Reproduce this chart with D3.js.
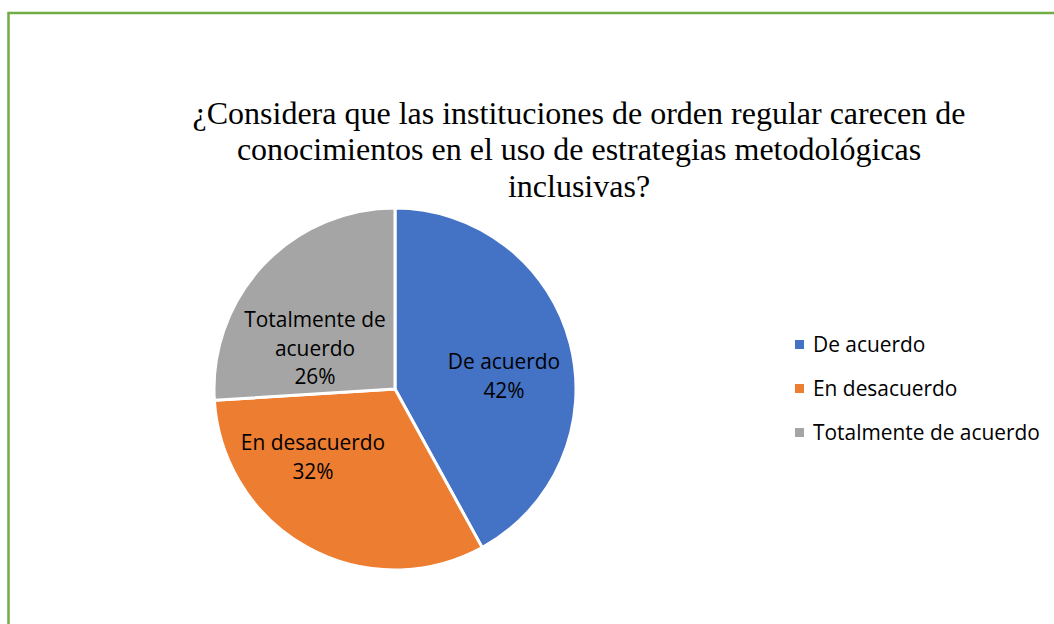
<!DOCTYPE html>
<html><head><meta charset="utf-8">
<script src="https://cdn.jsdelivr.net/npm/d3@7"></script>
<style>body{margin:0;background:#fff}svg{display:block}</style>
</head><body>
<svg id="c" width="1054" height="624"></svg>
<script>
const categories = ["De acuerdo", "En desacuerdo", "Totalmente de acuerdo"];
const values = [42, 32, 26];
const colors = ["#4472C4", "#ED7D31", "#A5A5A5"];
const titleLines = ["¿Considera que las instituciones de orden regular carecen de", "conocimientos en el uso de estrategias metodológicas", "inclusivas?"];
const sliceLabels = [["De acuerdo", "42%"], ["En desacuerdo", "32%"], ["Totalmente de", "acuerdo", "26%"]];

const FONT = "'Open Sans','Noto Sans',sans-serif";
const svg = d3.select("#c");
// frame
svg.append("path").attr("d", "M8.5,624 L8.5,13 L1054,13").attr("fill", "none").attr("stroke", "#70AD47").attr("stroke-width", 2.5);

// title
svg.append("text").attr("font-family", "'Liberation Serif','Times New Roman',serif").attr("font-size", 32).attr("fill", "#000").attr("text-anchor", "middle")
  .selectAll("tspan").data(titleLines).join("tspan").attr("x", 579).attr("y", (d, i) => [124, 160, 197][i]).text(d => d);

// fit label font size to reference text width
const probe = svg.append("text").attr("font-family", FONT).attr("font-size", 20).text("Totalmente de acuerdo");
const fs = 20 * 227 / probe.node().getComputedTextLength();
probe.remove();

const cx = 395, cy = 389, r = 181;
const pie = d3.pie().sort(null).value(d => d)(values);
const arc = d3.arc().innerRadius(0).outerRadius(r);
const g = svg.append("g").attr("transform", `translate(${cx},${cy})`);
g.selectAll("path").data(pie).join("path").attr("d", arc).attr("fill", (d, i) => colors[i]).attr("stroke", "#fff").attr("stroke-width", 3).attr("stroke-linejoin", "round");

const labelPos = [[109, -20], [-82, 61], [-80, -62]];
g.selectAll("text.lab").data(pie).join("text").attr("class", "lab")
  .attr("font-family", FONT).attr("font-size", fs).attr("fill", "#000").attr("text-anchor", "middle")
  .each(function (d, i) {
    const t = d3.select(this);
    sliceLabels[i].forEach((s, k) => t.append("tspan").attr("x", labelPos[i][0]).attr("y", labelPos[i][1] + k * 28.5).text(s));
  });

// legend
const lg = svg.append("g").attr("transform", "translate(795,0)");
const ly = [352, 396, 440];
categories.forEach((c, i) => {
  lg.append("rect").attr("x", 0).attr("y", ly[i] - 12).attr("width", 9).attr("height", 9).attr("fill", colors[i]);
  lg.append("text").attr("x", 18).attr("y", ly[i]).attr("font-family", FONT).attr("font-size", fs).attr("fill", "#000").text(c);
});
</script>
</body></html>
